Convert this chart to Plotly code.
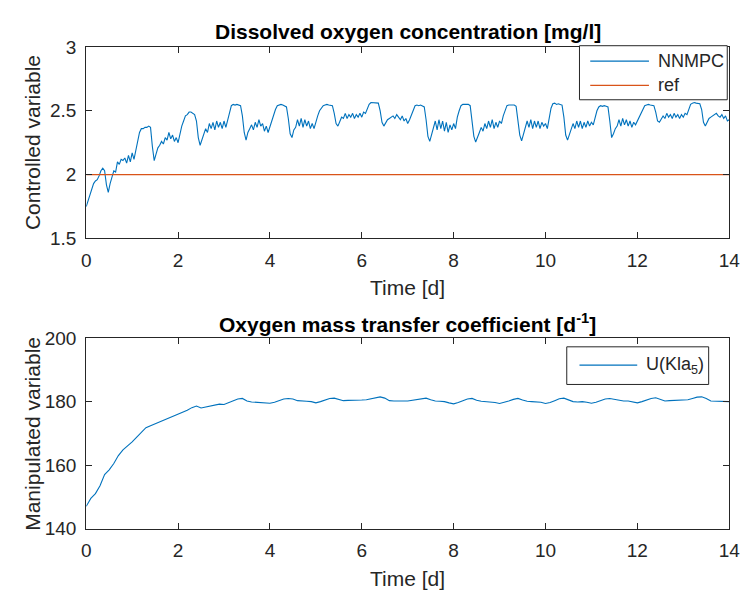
import plotly.graph_objects as go

# ---------------- data ----------------
# Dissolved oxygen (controlled variable), sampled every 0.04 d, day by day
do_day = [
    [1.75, 1.80, 1.84, 1.89, 1.93, 1.95, 1.96, 1.99, 2.03, 2.05, 2.03, 1.92, 1.86,
     1.93, 1.98, 2.03, 2.02, 2.10, 2.08, 2.12, 2.11, 2.13, 2.09, 2.15, 2.10],
    [2.17, 2.12, 2.20, 2.27, 2.33, 2.36, 2.36, 2.37, 2.37, 2.38, 2.37, 2.22, 2.11,
     2.16, 2.21, 2.23, 2.26, 2.24, 2.29, 2.27, 2.33, 2.28, 2.31, 2.26, 2.29],
    [2.25, 2.33, 2.38, 2.42, 2.46, 2.47, 2.49, 2.49, 2.48, 2.47, 2.42, 2.29, 2.23,
     2.28, 2.31, 2.36, 2.33, 2.40, 2.36, 2.41, 2.35, 2.42, 2.37, 2.41, 2.36],
    [2.42, 2.37, 2.43, 2.49, 2.54, 2.55, 2.545, 2.55, 2.545, 2.54, 2.46, 2.33, 2.27,
     2.33, 2.36, 2.39, 2.35, 2.41, 2.37, 2.43, 2.38, 2.40, 2.34, 2.38, 2.33],
    [2.38, 2.42, 2.47, 2.51, 2.54, 2.545, 2.55, 2.545, 2.54, 2.53, 2.44, 2.32, 2.29,
     2.35, 2.37, 2.43, 2.38, 2.44, 2.37, 2.43, 2.38, 2.42, 2.36, 2.40, 2.36],
    [2.42, 2.46, 2.50, 2.52, 2.54, 2.545, 2.55, 2.545, 2.545, 2.54, 2.48, 2.40, 2.38,
     2.42, 2.45, 2.44, 2.48, 2.44, 2.47, 2.45, 2.48, 2.44, 2.47, 2.45, 2.48],
    [2.45, 2.49, 2.48, 2.52, 2.55, 2.565, 2.565, 2.56, 2.565, 2.56, 2.50, 2.41, 2.38,
     2.41, 2.43, 2.44, 2.45, 2.46, 2.44, 2.47, 2.45, 2.43, 2.46, 2.42, 2.44],
    [2.40, 2.43, 2.47, 2.51, 2.54, 2.545, 2.54, 2.545, 2.54, 2.53, 2.43, 2.30, 2.26,
     2.31, 2.36, 2.42, 2.35, 2.43, 2.36, 2.42, 2.34, 2.41, 2.33, 2.39, 2.35],
    [2.40, 2.36, 2.45, 2.50, 2.54, 2.55, 2.55, 2.545, 2.55, 2.54, 2.44, 2.30, 2.255,
     2.30, 2.33, 2.37, 2.34, 2.40, 2.36, 2.42, 2.37, 2.43, 2.36, 2.41, 2.37],
    [2.42, 2.40, 2.46, 2.51, 2.54, 2.545, 2.545, 2.54, 2.545, 2.535, 2.44, 2.31, 2.265,
     2.32, 2.36, 2.42, 2.37, 2.43, 2.36, 2.42, 2.37, 2.42, 2.36, 2.41, 2.38],
    [2.40, 2.36, 2.46, 2.52, 2.555, 2.56, 2.55, 2.555, 2.55, 2.545, 2.45, 2.31, 2.27,
     2.32, 2.35, 2.40, 2.36, 2.42, 2.37, 2.42, 2.36, 2.41, 2.37, 2.42, 2.38],
    [2.41, 2.39, 2.45, 2.50, 2.53, 2.54, 2.535, 2.54, 2.535, 2.53, 2.42, 2.29, 2.32,
     2.36, 2.38, 2.43, 2.38, 2.44, 2.39, 2.43, 2.38, 2.42, 2.37, 2.41, 2.39],
    [2.42, 2.45, 2.49, 2.52, 2.54, 2.545, 2.55, 2.545, 2.545, 2.54, 2.49, 2.42, 2.41,
     2.44, 2.46, 2.44, 2.48, 2.45, 2.47, 2.44, 2.48, 2.45, 2.47, 2.44, 2.47],
    [2.45, 2.48, 2.47, 2.52, 2.55, 2.56, 2.565, 2.56, 2.56, 2.555, 2.51, 2.41, 2.38,
     2.41, 2.44, 2.45, 2.46, 2.47, 2.48, 2.46, 2.45, 2.47, 2.44, 2.46, 2.42],
]
do_last = 2.43
do_ref = 2.0
do_step = 0.04

# Oxygen mass transfer coefficient (manipulated variable), every 0.1 d
kla5 = [
    147.0, 149.5, 151.0, 153.5, 157.0, 158.5, 160.5, 163.0, 164.8, 166.0,
    167.3, 168.8, 170.3, 171.8, 172.4, 173.0, 173.7, 174.3, 175.0, 175.6,
    176.0, 176.6, 177.3, 178.1, 178.6, 178.0, 178.3, 178.7, 179.1, 179.2,
    179.1, 179.6, 180.2, 180.8, 181.0, 180.2, 179.9, 179.8, 179.9, 179.7,
    179.5, 179.8, 180.3, 180.8, 181.0, 180.8, 180.3, 180.1, 180.1, 180.0,
    179.6, 180.0, 180.5, 181.0, 181.1, 180.6, 180.3, 180.4, 180.4, 180.3,
    180.5, 180.6, 180.9, 181.3, 181.5, 181.1, 180.3, 180.2, 180.3, 180.2,
    180.2, 180.4, 180.7, 181.0, 181.1, 180.6, 180.2, 180.1, 180.0, 179.6,
    179.3, 179.7, 180.3, 180.8, 181.0, 180.4, 180.1, 180.0, 179.9, 179.7,
    179.4, 179.7, 180.2, 180.7, 181.0, 180.5, 180.1, 180.0, 180.0, 179.8,
    179.4, 179.7, 180.3, 180.9, 181.1, 180.5, 180.0, 179.9, 180.0, 179.8,
    179.5, 179.8, 180.3, 180.8, 181.0, 180.7, 180.3, 180.2, 180.2, 179.9,
    179.6, 180.0, 180.5, 181.0, 181.2, 180.8, 180.2, 180.3, 180.4, 180.4,
    180.5, 180.6, 181.0, 181.4, 181.5, 181.0, 180.2, 180.1, 180.2, 180.0,
    180.0,
]
kla_step = 0.1

x_ticks = [0, 2, 4, 6, 8, 10, 12, 14]
do_ticks = [1.5, 2, 2.5, 3]
kla_ticks = [140, 160, 180, 200]

# ---------------- series assembly ----------------
do_vals = [v for day in do_day for v in day] + [do_last]
t_do = [round(k * do_step, 2) for k in range(len(do_vals))]
t_kla = [round(k * kla_step, 1) for k in range(len(kla5))]

W, H = 750, 602
FONT = "Liberation Sans, Arial, Helvetica, sans-serif"
INK = "#262626"
BLUE = "#0072BD"
ORANGE = "#D95319"


def px(x):
    return x / W


def py(y):
    return 1 - y / H


fig = go.Figure()
fig.add_trace(go.Scatter(x=t_do, y=do_vals, mode="lines",
                         line=dict(color=BLUE, width=1.1), xaxis="x", yaxis="y",
                         name="NNMPC", showlegend=False))
fig.add_trace(go.Scatter(x=[0, 14], y=[do_ref, do_ref], mode="lines",
                         line=dict(color=ORANGE, width=1.3), xaxis="x", yaxis="y",
                         name="ref", showlegend=False))
fig.add_trace(go.Scatter(x=t_kla, y=kla5, mode="lines",
                         line=dict(color=BLUE, width=1.1), xaxis="x2", yaxis="y2",
                         name="U(Kla5)", showlegend=False))

axis_common = dict(
    showline=True, linecolor=INK, linewidth=1, mirror="allticks",
    ticks="inside", ticklen=6, tickwidth=1, tickcolor=INK,
    showgrid=False, zeroline=False, ticklabeloverflow="allow",
    tickfont=dict(family=FONT, size=19, color=INK),
)

x_dom = [px(83), px(740)]
fig.update_layout(
    width=W, height=H,
    margin=dict(l=0, r=0, t=0, b=0),
    paper_bgcolor="white", plot_bgcolor="white",
    showlegend=False,
    xaxis=dict(domain=x_dom, range=[0, 14], tickvals=x_ticks, anchor="y",
               ticklabelstandoff=5, **axis_common),
    yaxis=dict(domain=[py(236.7), py(38.3)], range=[1.5, 3], tickvals=do_ticks,
               ticktext=[f"{v:g}" for v in do_ticks], anchor="x",
               ticklabelstandoff=5, **axis_common),
    xaxis2=dict(domain=x_dom, range=[0, 14], tickvals=x_ticks, anchor="y2",
                ticklabelstandoff=5, **axis_common),
    yaxis2=dict(domain=[py(537.3), py(340)], range=[140, 200], tickvals=kla_ticks,
                anchor="x2", ticklabelstandoff=5, **axis_common),
)

ann = []
shapes = []


def text(x, y, s, size, bold=False, angle=0, xanchor="center"):
    ann.append(dict(x=px(x), y=py(y), xref="paper", yref="paper", text=s,
                    showarrow=False, textangle=angle, xanchor=xanchor,
                    yanchor="middle",
                    font=dict(family=FONT, size=size, color="black" if bold else INK,
                              weight="bold" if bold else "normal")))


# titles and axis labels
text(411.5, 22, "Dissolved oxygen concentration [mg/l]", 21, bold=True)
text(411.5, 324, "Oxygen mass transfer coefficient [d<sup>-1</sup>]", 21, bold=True)
text(411.5, 288, "Time [d]", 21)
text(411.5, 589, "Time [d]", 21)
text(28, 137.5, "Controlled variable", 21, angle=-90)
text(28, 438.7, "Manipulated variable", 21, angle=-90)

# legend of the upper panel
shapes.append(dict(type="rect", xref="paper", yref="paper",
                   x0=px(587), x1=px(738), y0=py(93), y1=py(37),
                   line=dict(color=INK, width=1), fillcolor="white", layer="above"))
for yy, col, lab in [(53, BLUE, "NNMPC"), (78, ORANGE, "ref")]:
    shapes.append(dict(type="line", xref="paper", yref="paper",
                       x0=px(598), x1=px(658), y0=py(yy), y1=py(yy),
                       line=dict(color=col, width=1.3), layer="above"))
    text(665, yy, lab, 18, xanchor="left")

# legend of the lower panel
shapes.append(dict(type="rect", xref="paper", yref="paper",
                   x0=px(574), x1=px(719), y0=py(388), y1=py(349),
                   line=dict(color=INK, width=1), fillcolor="white", layer="above"))
shapes.append(dict(type="line", xref="paper", yref="paper",
                   x0=px(587), x1=px(646), y0=py(368), y1=py(368),
                   line=dict(color=BLUE, width=1.3), layer="above"))
text(653, 368, "U(Kla<sub>5</sub>)", 18, xanchor="left")

fig.update_layout(annotations=ann, shapes=shapes)
fig.write_html("out.html")
